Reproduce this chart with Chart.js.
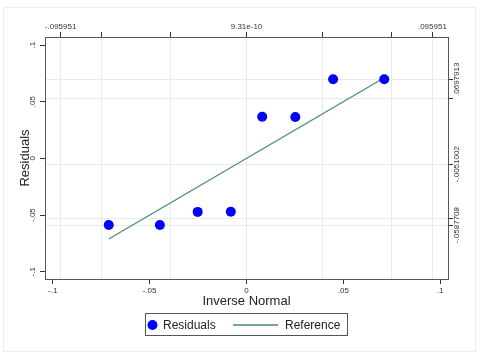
<!DOCTYPE html>
<html>
<head>
<meta charset="utf-8">
<script src="https://cdn.jsdelivr.net/npm/chart.js@4"></script>
<style>
  body { margin: 0; background: #fff; }
  canvas { display: block; }
</style>
</head>
<body>
<canvas id="qnormChart" width="480" height="358"></canvas>
<script>
// Datos
const inverseNormal = [-0.0711, -0.0447, -0.0252, -0.0081, 0.0081, 0.0252, 0.0447, 0.0711];
const residuals = [-0.0588, -0.0588, -0.0472, -0.0470, 0.0368, 0.0366, 0.0698, 0.0698];
const referenceEnds = [-0.0711, 0.0711];

// Ticks de los ejes
const bottomTicks = [-0.1, -0.05, 0, 0.05, 0.1];
const bottomLabels = ['-.1', '-.05', '0', '.05', '.1'];
const leftTicks = [-0.1, -0.05, 0, 0.05, 0.1];
const leftLabels = ['-.1', '-.05', '0', '.05', '.1'];
const topTicks = [-0.095951, -0.0747, -0.0393, 0, 0.0393, 0.0747, 0.095951];
const topLabels = ['-.095951', '', '', '9.31e-10', '', '', '.095951'];
const rightTicks = [-0.0587708, -0.0530, -0.0051002, 0.0532, 0.0697913];
const rightLabels = ['-.0587708', '', '-.0051002', '', '.0697913'];

const seriesNames = ['Residuals', 'Reference'];

const FONT = '"Liberation Sans", Arial, sans-serif';
const frameColor = '#555';
const gridColor = '#e3edf0';
const dotColor = '#0000ff';
const lineColor = '#4a8a7a';

const setTicks = (values) => (scale) => {
  scale.ticks = values.map((v) => ({ value: v }));
};

// Etiquetas verticales de los ejes Y (giradas -90°)
const yLabelsPlugin = {
  id: 'yLabels',
  afterDraw(chart) {
    const { ctx } = chart;
    const specs = [
      { id: 'y', labels: leftLabels, x: 32.5 },
      { id: 'y2', labels: rightLabels, x: 457 },
    ];
    ctx.save();
    ctx.font = `8px ${FONT}`;
    ctx.fillStyle = '#333';
    ctx.textAlign = 'center';
    ctx.textBaseline = 'middle';
    specs.forEach(({ id, labels, x }) => {
      const scale = chart.scales[id];
      scale.ticks.forEach((t, i) => {
        if (!labels[i]) return;
        const y = scale.getPixelForValue(t.value);
        ctx.save();
        ctx.translate(x, y);
        ctx.rotate(-Math.PI / 2);
        ctx.fillText(labels[i], 0, 0);
        ctx.restore();
      });
    });
    ctx.restore();
  },
};

// Leyenda con recuadro y marco exterior
const legendPlugin = {
  id: 'boxLegend',
  afterDraw(chart) {
    const { ctx } = chart;
    ctx.save();
    // marco exterior
    ctx.strokeStyle = '#e8eef0';
    ctx.lineWidth = 1;
    ctx.strokeRect(3.5, 7.5, 472, 344);
    // recuadro de la leyenda
    ctx.strokeStyle = frameColor;
    ctx.strokeRect(145.5, 313.5, 202, 22);
    const cy = 325;
    ctx.fillStyle = dotColor;
    ctx.beginPath();
    ctx.arc(152.5, cy, 5, 0, Math.PI * 2);
    ctx.fill();
    ctx.strokeStyle = lineColor;
    ctx.lineWidth = 1.3;
    ctx.beginPath();
    ctx.moveTo(233, cy);
    ctx.lineTo(278, cy);
    ctx.stroke();
    ctx.fillStyle = '#222';
    ctx.font = `12px ${FONT}`;
    ctx.textAlign = 'left';
    ctx.textBaseline = 'middle';
    ctx.fillText(seriesNames[0], 163, cy + 0.5);
    ctx.fillText(seriesNames[1], 285, cy + 0.5);
    ctx.restore();
  },
};

const axisBorder = { display: true, color: frameColor, width: 1 };

const config = {
  data: {
    datasets: [
      {
        type: 'scatter',
        label: seriesNames[0],
        data: inverseNormal.map((x, i) => ({ x, y: residuals[i] })),
        backgroundColor: dotColor,
        borderWidth: 0,
        pointRadius: 5,
        xAxisID: 'x',
        yAxisID: 'y',
        order: 1,
      },
      {
        type: 'line',
        label: seriesNames[1],
        data: referenceEnds.map((v) => ({ x: v, y: v })),
        borderColor: lineColor,
        borderWidth: 1.3,
        pointRadius: 0,
        fill: false,
        xAxisID: 'x',
        yAxisID: 'y',
        order: 2,
      },
    ],
  },
  options: {
    responsive: false,
    devicePixelRatio: 1,
    animation: false,
    layout: { padding: { left: 0, right: 0, top: 10, bottom: 49 } },
    plugins: { legend: { display: false }, tooltip: { enabled: false } },
    scales: {
      x: {
        type: 'linear',
        position: 'bottom',
        min: -0.104,
        max: 0.104,
        afterBuildTicks: setTicks(bottomTicks),
        afterFit: (s) => { s.height = 30; },
        grid: { drawOnChartArea: false, drawTicks: true, tickLength: 5, tickColor: '#333' },
        border: axisBorder,
        ticks: {
          autoSkip: false, maxRotation: 0, padding: 2, color: '#333',
          font: { family: FONT, size: 8 },
          callback: (v, i) => bottomLabels[i],
        },
        title: {
          display: true, text: 'Inverse Normal', color: '#222',
          font: { family: FONT, size: 13, lineHeight: 1.2 },
          padding: { top: 0, bottom: 0 },
        },
      },
      x2: {
        type: 'linear',
        position: 'top',
        min: -0.104,
        max: 0.104,
        afterBuildTicks: setTicks(topTicks),
        afterFit: (s) => { s.height = 27; },
        grid: { drawOnChartArea: true, color: gridColor, drawTicks: true, tickLength: 5, tickColor: '#333' },
        border: axisBorder,
        ticks: {
          autoSkip: false, maxRotation: 0, padding: 0, color: '#333',
          font: { family: FONT, size: 8 },
          callback: (v, i) => topLabels[i],
        },
      },
      y: {
        type: 'linear',
        position: 'left',
        min: -0.1064,
        max: 0.1071,
        afterBuildTicks: setTicks(leftTicks),
        afterFit: (s) => { s.width = 45; },
        grid: { drawOnChartArea: false, drawTicks: true, tickLength: 5, tickColor: '#333' },
        border: axisBorder,
        ticks: { display: false },
        title: {
          display: true, text: 'Residuals', color: '#222',
          font: { family: FONT, size: 13, lineHeight: 1.2 },
          padding: { top: 18, bottom: 0 },
        },
      },
      y2: {
        type: 'linear',
        position: 'right',
        min: -0.1064,
        max: 0.1071,
        afterBuildTicks: setTicks(rightTicks),
        afterFit: (s) => { s.width = 32; },
        grid: { drawOnChartArea: true, color: gridColor, drawTicks: true, tickLength: 5, tickColor: '#333' },
        border: axisBorder,
        ticks: { display: false },
      },
    },
  },
  plugins: [yLabelsPlugin, legendPlugin],
};

new Chart(document.getElementById('qnormChart'), config);
</script>
</body>
</html>
